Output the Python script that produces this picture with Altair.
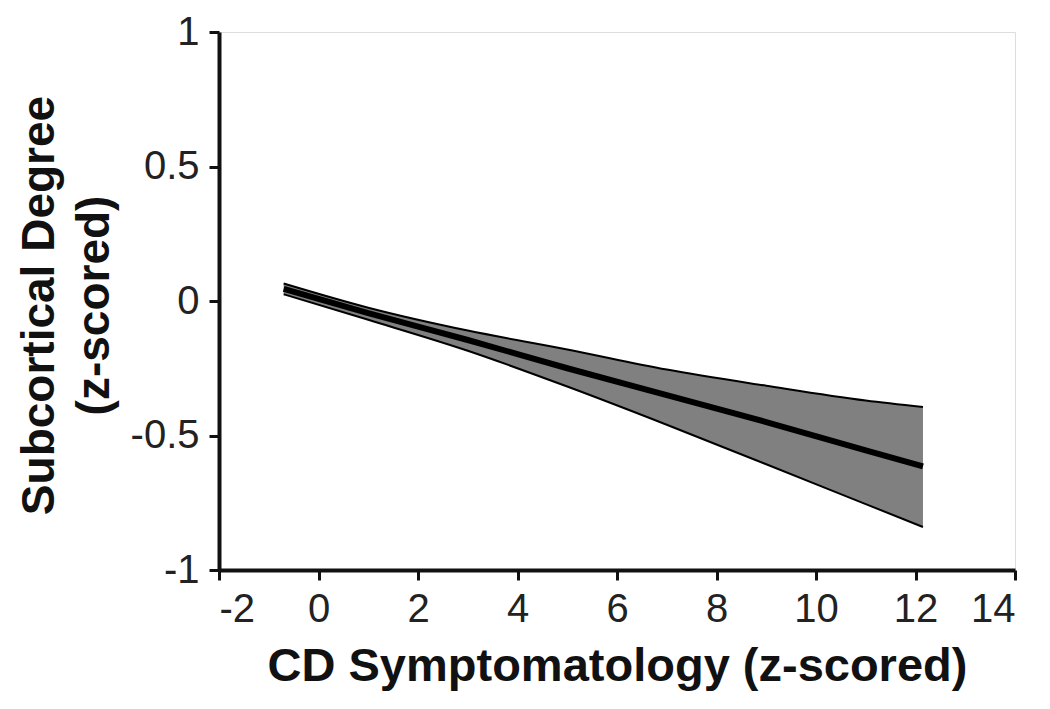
import altair as alt
import pandas as pd

x_vals = [-0.7, 1, 3, 5, 7, 9, 11, 12.15]
fit_vals = [0.045, -0.045, -0.145, -0.25, -0.35, -0.45, -0.555, -0.615]
upper_vals = [0.065, -0.025, -0.11, -0.18, -0.255, -0.315, -0.37, -0.394]
lower_vals = [0.025, -0.07, -0.185, -0.318, -0.46, -0.607, -0.755, -0.84]

df = pd.DataFrame({"x": x_vals, "fit": fit_vals, "upper": upper_vals, "lower": lower_vals})

FONT = "Liberation Sans"
LBL = "datum.value < 0 ? '-' + format(abs(datum.value), '') : format(datum.value, '')"

xs = alt.Scale(domain=[-2, 14], nice=False, zero=False)
ys = alt.Scale(domain=[-1, 1], nice=False, zero=False)

xaxis = alt.Axis(
    values=[-2, 0, 2, 4, 6, 8, 10, 12, 14], grid=False, labelExpr=LBL,
    title="CD Symptomatology (z-scored)", titleFont=FONT, titleFontSize=47, titleFontWeight="bold",
    titleColor="#111", titleX=398, titleY=110, titleAnchor="middle", titleBaseline="alphabetic",
    labelFont=FONT, labelFontSize=40, labelColor="#222", labelPadding=9,
    domainColor="#111", domainWidth=4, tickColor="#111", tickWidth=3, tickSize=10,
)
yaxis = alt.Axis(
    values=[-1, -0.5, 0, 0.5, 1], grid=False, labelExpr=LBL,
    title=["Subcortical Degree", "(z-scored)"], titleFont=FONT, titleFontSize=46, titleFontWeight="bold",
    titleColor="#111", titleLineHeight=55, titleX=-180, titleY=273, titleAngle=-90,
    titleAnchor="middle", titleBaseline="middle", titleAlign="center",
    labelFont=FONT, labelFontSize=40, labelColor="#222", labelPadding=10,
    domainColor="#111", domainWidth=4, tickColor="#111", tickWidth=3, tickSize=10,
)

base = alt.Chart(df)
band = base.mark_area(color="#808080", opacity=1, interpolate="monotone").encode(
    x=alt.X("x:Q", scale=xs, axis=xaxis),
    y=alt.Y("lower:Q", scale=ys, axis=yaxis),
    y2="upper:Q",
)
up = base.mark_line(color="#000", strokeWidth=2, interpolate="monotone").encode(
    x=alt.X("x:Q", scale=xs), y=alt.Y("upper:Q", scale=ys))
lo = base.mark_line(color="#000", strokeWidth=2, interpolate="monotone").encode(
    x=alt.X("x:Q", scale=xs), y=alt.Y("lower:Q", scale=ys))
fit = base.mark_line(color="#000", strokeWidth=6, interpolate="monotone").encode(
    x=alt.X("x:Q", scale=xs), y=alt.Y("fit:Q", scale=ys))

chart = alt.layer(band, up, lo, fit).properties(
    width=796, height=538,
    autosize=alt.AutoSizeParams(type="none"),
    padding={"left": 211, "top": 24, "right": 10, "bottom": 130},
).configure_view(stroke=None).configure(background="white")

chart.save("out.html", embed_options={"renderer": "svg", "actions": False})
